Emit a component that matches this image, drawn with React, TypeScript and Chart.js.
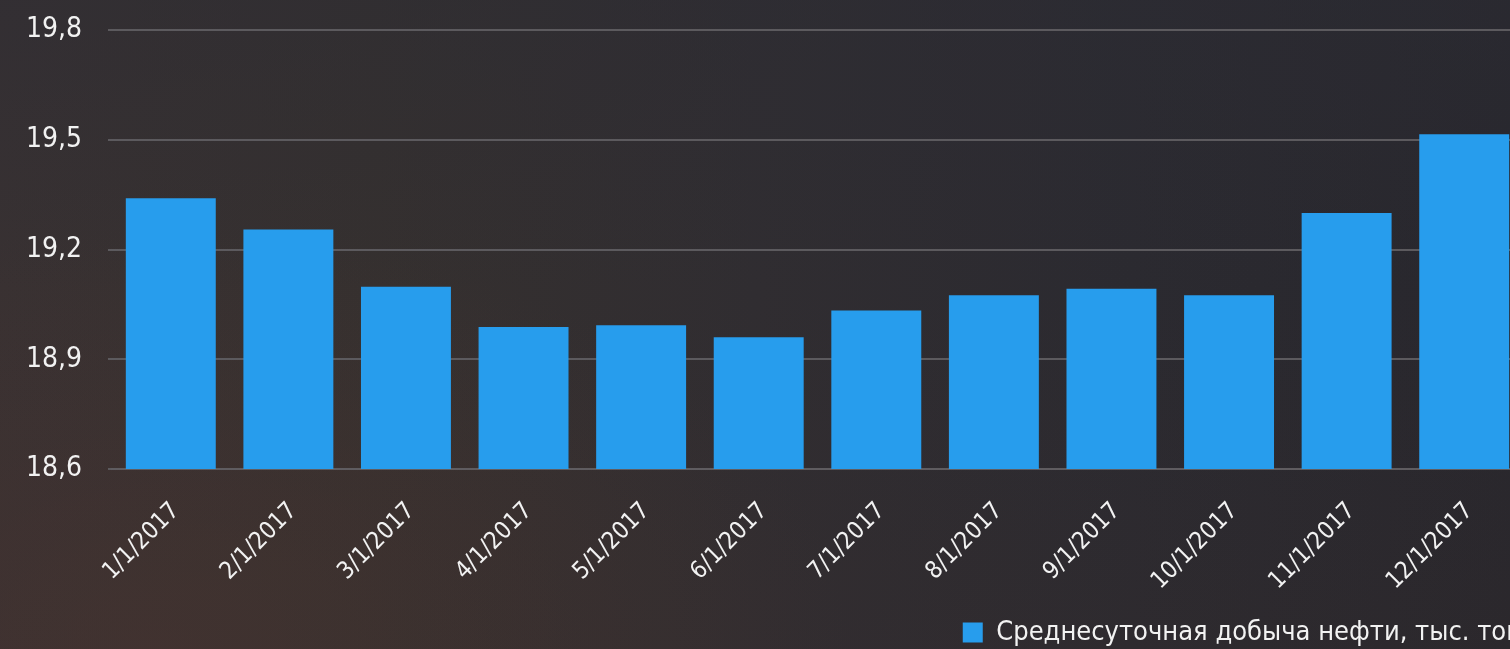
import React, { useEffect, useRef } from "react";
import { Chart, registerables } from "chart.js";

Chart.register(...registerables);

const categories = [
  "1/1/2017", "2/1/2017", "3/1/2017", "4/1/2017", "5/1/2017", "6/1/2017",
  "7/1/2017", "8/1/2017", "9/1/2017", "10/1/2017", "11/1/2017", "12/1/2017",
];
const oilOutput = [19.34, 19.255, 19.098, 18.988, 18.993, 18.96, 19.033, 19.075, 19.093, 19.075, 19.3, 19.515];
const yTickValues = [18.6, 18.9, 19.2, 19.5, 19.8];
const yTickLabels = ["18,6", "18,9", "19,2", "19,5", "19,8"];
const seriesLabel = "Среднесуточная добыча нефти, тыс. тонн";

const FONT = '"DejaVu Sans Condensed", "Roboto", sans-serif';
const CANVAS_W = 1548;
const CANVAS_H = 656;
const PLOT_RIGHT = 1523;

export default function App() {
  const ref = useRef<HTMLCanvasElement | null>(null);

  useEffect(() => {
    if (!ref.current) return;
    const chart = new Chart(ref.current, {
      type: "bar",
      data: {
        labels: categories,
        datasets: [
          {
            label: seriesLabel,
            data: oilOutput,
            backgroundColor: "#279ded",
            borderWidth: 0,
            categoryPercentage: 1,
            barPercentage: 0.765,
          },
        ],
      },
      options: {
        animation: false,
        responsive: false,
        maintainAspectRatio: false,
        layout: { padding: { top: 30, right: 0, left: 0, bottom: 0 } },
        plugins: {
          legend: {
            position: "bottom",
            align: "end",
            labels: {
              color: "#f2f2f2",
              boxWidth: 20,
              boxHeight: 20,
              padding: 10,
              font: { family: FONT, size: 27 },
            },
          },
          tooltip: { enabled: false },
        },
        scales: {
          x: {
            grid: { display: false },
            border: { display: true, color: "#5f5c60", width: 2 },
            ticks: {
              color: "#f2f2f2",
              minRotation: 45,
              maxRotation: 45,
              autoSkip: false,
              padding: 20,
              labelOffset: 5,
              font: { family: FONT, size: 24 },
            },
            afterFit: (s: any) => {
              s.height = CANVAS_H - 516;
            },
          },
          y: {
            min: 18.6,
            max: 19.8,
            afterBuildTicks: (s: any) => {
              s.ticks = yTickValues.map((v) => ({ value: v }));
            },
            grid: { color: "#5c5a5e", lineWidth: 2, tickLength: 4, drawTicks: true },
            border: { display: false },
            ticks: {
              color: "#f2f2f2",
              padding: 26,
              font: { family: FONT, size: 28 },
              callback: (_v: any, i: number) => yTickLabels[i],
            },
            afterFit: (s: any) => {
              s.width = 112;
              s.paddingTop = 16;
              s.paddingBottom = 16;
            },
          },
          spacer: {
            type: "linear",
            position: "right",
            display: true,
            grid: { display: false },
            border: { display: false },
            ticks: { display: false },
            afterFit: (s: any) => {
              s.width = CANVAS_W - PLOT_RIGHT;
            },
          },
        },
      },
    });
    return () => chart.destroy();
  }, []);

  return (
    <div
      style={{
        position: "fixed",
        left: 0,
        top: 0,
        width: 1510,
        height: 649,
        overflow: "hidden",
        background:
          "radial-gradient(ellipse 700px 420px at 150px 649px, rgba(72,52,48,0.55) 0%, rgba(72,52,48,0) 100%), linear-gradient(180deg, rgba(44,44,52,0.45) 0%, rgba(44,44,52,0) 45%, rgba(60,45,42,0.18) 100%), linear-gradient(90deg, #383132 0%, #35302f 25%, #302d31 50%, #2b2a30 75%, #28272d 100%)",
      }}
    >
      <canvas
        ref={ref}
        width={CANVAS_W}
        height={CANVAS_H}
        style={{ display: "block", width: CANVAS_W, height: CANVAS_H }}
      />
    </div>
  );
}
